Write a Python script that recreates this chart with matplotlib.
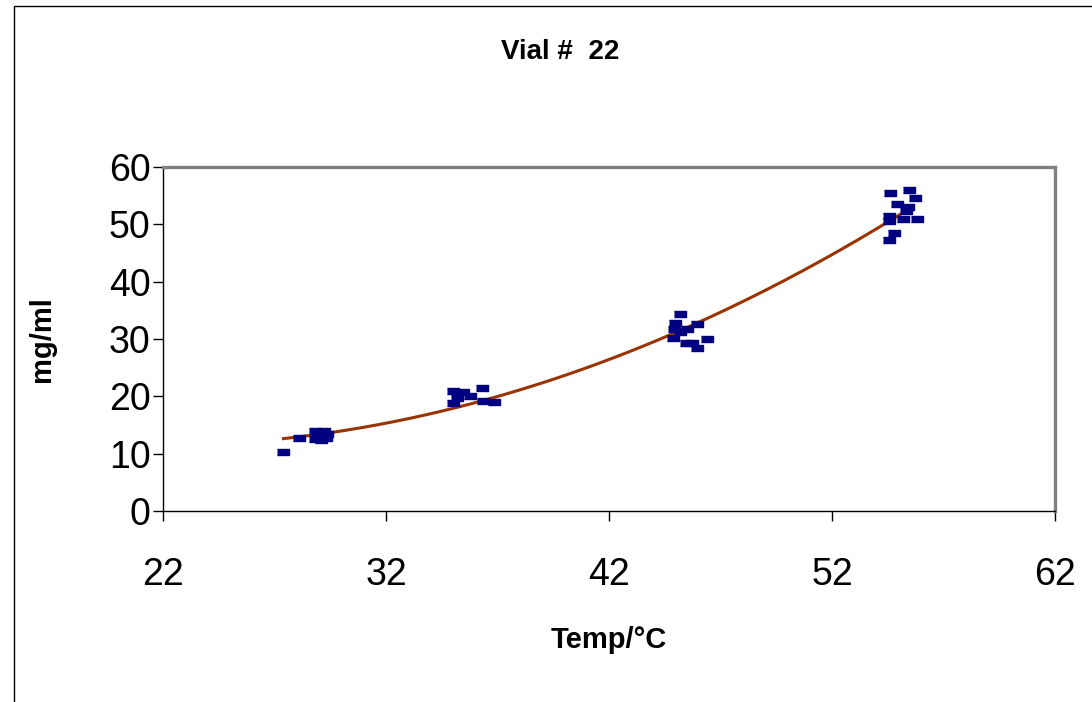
import numpy as np
import matplotlib
matplotlib.use("Agg")
import matplotlib.pyplot as plt
from matplotlib.patches import Rectangle

plt.rcParams["font.family"] = ["Liberation Sans", "DejaVu Sans"]

temp = [27.4, 28.1, 28.8, 29.2, 28.8, 29.0, 29.3, 29.1, 28.9, 29.35,
        35.0, 35.45, 35.0, 35.77, 36.3, 36.35, 36.84, 35.2,
        45.18, 44.96, 44.9, 45.5, 45.95, 44.87, 46.4, 45.45, 45.7, 45.95, 45.2,
        54.6, 55.45, 55.7, 54.9, 55.4, 54.56, 54.56, 55.2, 55.8, 54.8, 54.56, 55.3]
conc = [10.3, 12.7, 13.9, 13.9, 12.6, 13.2, 12.8, 12.3, 12.9, 13.5,
        20.9, 20.8, 18.8, 20.1, 21.5, 19.2, 19.0, 19.7,
        34.3, 32.8, 31.8, 31.8, 32.6, 30.2, 30.0, 29.3, 29.3, 28.4, 31.2,
        55.5, 56.0, 54.6, 53.5, 53.0, 51.5, 50.6, 51.0, 51.0, 48.5, 47.3, 52.4]

x_ticks = [22, 32, 42, 52, 62]
y_ticks = [0, 10, 20, 30, 40, 50, 60]

# 2nd order trend line like the spreadsheet one
coef = np.polyfit(temp, conc, 2)
xt = np.linspace(min(temp), max(temp) - 0.5, 200)
yt = np.polyval(coef, xt)

fig = plt.figure(figsize=(10.92, 7.02), dpi=100)
ax = fig.add_axes([163 / 1092, 1 - 511 / 702, (1055 - 163) / 1092, (511 - 167) / 702])

# outer chart border
fig.patches.append(Rectangle((14 / 1092, -0.1), 1.2, 1 - 6 / 702 + 0.1,
                             transform=fig.transFigure, fill=False,
                             edgecolor="black", linewidth=1.0))

dash = [(-1, -0.55), (1, -0.55), (1, 0.55), (-1, 0.55)]
ax.plot(temp, conc, linestyle="none", marker=dash, markersize=8.6,
        color="#000080", markeredgecolor="#000080", zorder=3)
ax.plot(xt, yt, color="#993300", linewidth=2.2, zorder=2)

ax.set_xlim(22, 62)
ax.set_ylim(0, 60)
ax.set_xticks(x_ticks)
ax.set_yticks(y_ticks)

for s in ["top", "right"]:
    ax.spines[s].set_color("#808080")
    ax.spines[s].set_linewidth(2.4)
for s in ["left", "bottom"]:
    ax.spines[s].set_color("black")
    ax.spines[s].set_linewidth(1.0)

ax.tick_params(axis="both", direction="out", length=7, width=1.0, labelsize=27)
ax.tick_params(axis="x", pad=26)
ax.tick_params(axis="y", pad=2)

ax.set_xlabel("Temp/°C", fontsize=21, fontweight="bold", labelpad=24)
ax.set_ylabel("mg/ml", fontsize=21, fontweight="bold", labelpad=38)
fig.text(560 / 1092, 1 - 52 / 702, "Vial #  22", fontsize=20, fontweight="bold",
         ha="center", va="center")

fig.savefig("out.png", dpi=100)
